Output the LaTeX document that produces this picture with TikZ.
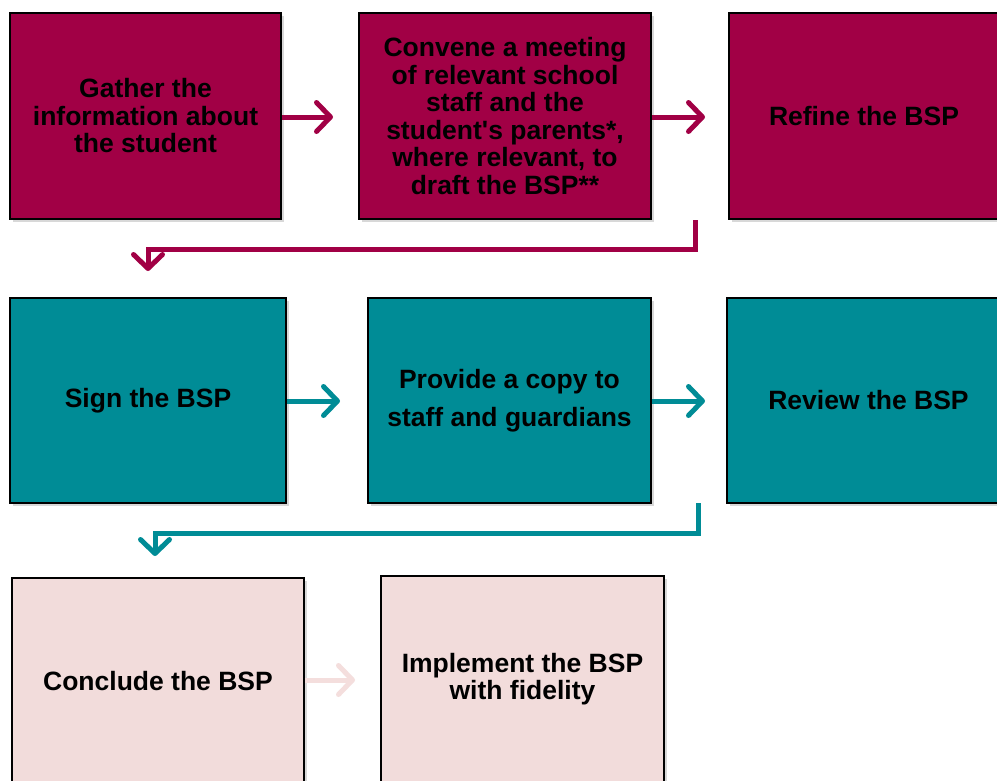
\documentclass[tikz,border=0pt]{standalone}
\usepackage{fontspec}
\setmainfont{Liberation Sans}[Ligatures=TeXOff]
\usetikzlibrary{arrows.meta,shadows}
\definecolor{wine}{RGB}{161,0,69}
\definecolor{tealc}{RGB}{0,140,150}
\definecolor{blush}{RGB}{242,220,219}
\definecolor{blusharrow}{RGB}{244,222,221}
\begin{document}
\begin{tikzpicture}[x=1pt,y=-1pt,
  stepbox/.style={draw=black, line width=1.5pt, fill=#1, rectangle,
    align=center, font=\fontsize{26.5}{27.5}\selectfont\bfseries,
    text=black, inner sep=0pt,
    drop shadow={opacity=0.3, shadow xshift=3pt, shadow yshift=-3pt}},
  flow/.style={draw=#1, line width=5pt,
    -{Straight Barb[length=14pt,width=29pt,line cap=round,line join=round]}},
  bend/.style={draw=#1, line width=5pt, line join=miter,
    -{Straight Barb[length=14pt,width=29pt,line cap=round,line join=round]}}]
\clip (0,0) rectangle (997,780);
\fill[white] (0,0) rectangle (997,780);

% first row
\node[stepbox=wine, minimum width=271pt, minimum height=206pt] (gather) at (145.5,116)
  {Gather the\\information about\\the student};
\node[stepbox=wine, minimum width=292pt, minimum height=206pt] (convene) at (505,116)
  {Convene a meeting\\of relevant school\\staff and the\\student's parents*,\\where relevant, to\\draft the BSP**};
\node[stepbox=wine, minimum width=270pt, minimum height=206pt] (refine) at (864,116)
  {Refine the BSP};

% second row
\node[stepbox=tealc, minimum width=276pt, minimum height=205pt] (sign) at (148,400.5)
  {Sign the BSP};
\node[stepbox=tealc, minimum width=283pt, minimum height=205pt,
  font=\fontsize{26.5}{38}\selectfont\bfseries] (copy) at (509.5,400.5)
  {Provide a copy to\\staff and guardians};
\node[stepbox=tealc, minimum width=283pt, minimum height=205pt] (review) at (868.5,400.5)
  {Review the BSP};

% third row
\node[stepbox=blush, minimum width=292pt, minimum height=206pt] (conclude) at (158,681)
  {Conclude the BSP};
\node[stepbox=blush, minimum width=283pt, minimum height=206pt] (implement) at (522.5,679)
  {Implement the BSP\\with fidelity};

% connectors
\coordinate (r1a) at (695,220);
\coordinate (r1b) at (148,271);
\coordinate (r2a) at (698,503);
\coordinate (r2b) at (155,556);

\draw[flow=wine] (gather.east |- 0,117) -- (333,117);
\draw[flow=wine] (convene.east |- 0,117) -- (705,117);
\draw[bend=wine] (r1a) -- (695,249) -| (r1b);

\draw[flow=tealc] (sign.east |- 0,401) -- (340,401);
\draw[flow=tealc] (copy.east |- 0,401) -- (705,401);
\draw[bend=tealc] (r2a) -- (698,533) -| (r2b);

\draw[flow=blusharrow] (conclude.east |- 0,680) -- (355,680);
\end{tikzpicture}
\end{document}
